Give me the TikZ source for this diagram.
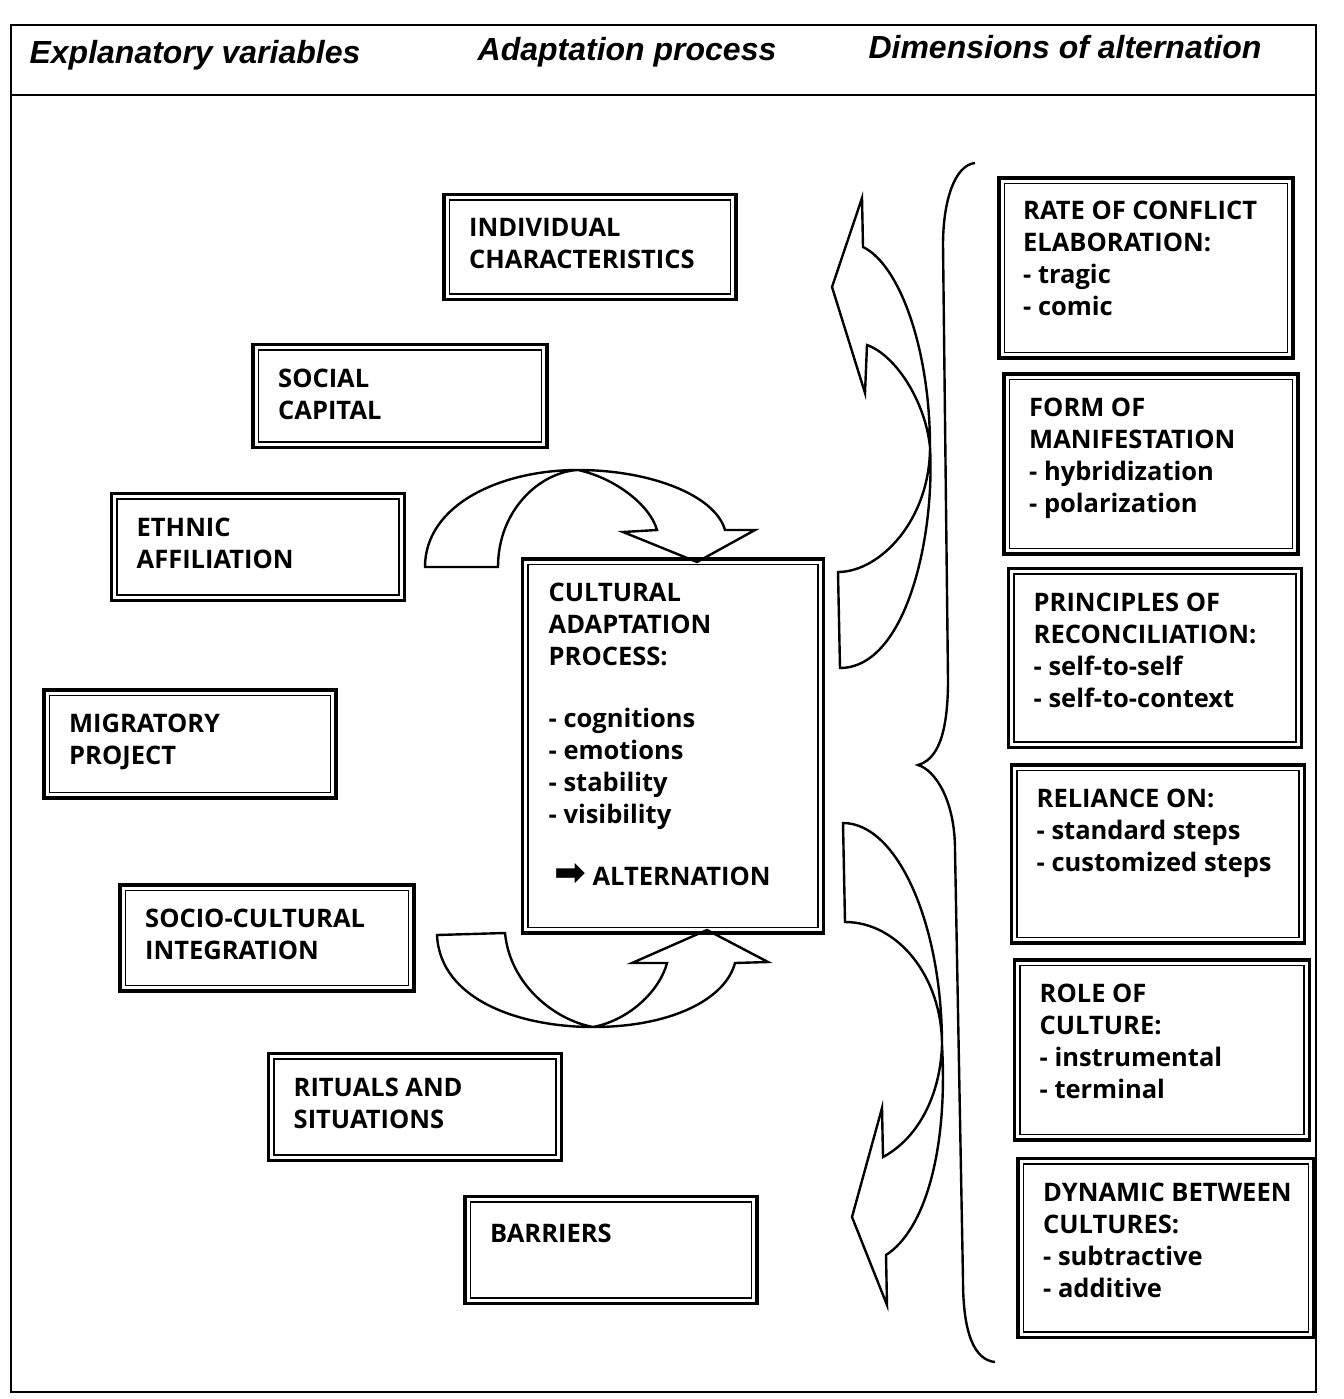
\documentclass[tikz,border=0pt]{standalone}
\usepackage{fontspec}
\setmainfont{Open Sans}
\newfontfamily\headfont{Liberation Sans}
\newfontfamily\symfont{DejaVu Sans}
\begin{document}
\begin{tikzpicture}[x=1pt,y=-1pt,
  frame/.style={draw, line width=2pt},
  dbox/.style={draw, line width=3.5pt, inner sep=0pt, outer sep=0pt},
  innerline/.style={draw, line width=1.7pt},
  txt/.style={anchor=north west, align=left, inner sep=0pt,
    font=\bfseries\fontsize{25.5}{32}\selectfont},
  head/.style={font=\headfont\bfseries\itshape\fontsize{32}{36}\selectfont},
  blockarrow/.style={draw, line width=2.4pt, line join=miter},
  brace/.style={draw, line width=2.4pt}
]
\useasboundingbox (0,0) rectangle (1343,1399);

% outer frame and column headings
\draw[frame] (11,25) rectangle (1316,1392);
\draw[frame] (11,95) -- (1316,95);
\node[head] (h1) at (195,55) {Explanatory variables};
\node[head] (h2) at (627,52) {Adaptation process};
\node[head] (h3) at (1065,47) {Dimensions of alternation};

% explanatory variables
\node[dbox, minimum width=292, minimum height=105] (indiv) at (590,247) {};
\node[txt] (indivt) at ([shift={(25,24)}]indiv.north west) {INDIVIDUAL\\CHARACTERISTICS};
\node[dbox, minimum width=294, minimum height=103] (social) at (400,396) {};
\node[txt] (socialt) at ([shift={(25,24)}]social.north west) {SOCIAL\\CAPITAL};
\node[dbox, minimum width=293, minimum height=107] (ethnic) at (258,547) {};
\node[txt] (ethnict) at ([shift={(25,24)}]ethnic.north west) {ETHNIC\\AFFILIATION};
\node[dbox, minimum width=292, minimum height=108] (migr) at (190,744) {};
\node[txt] (migrt) at ([shift={(25,24)}]migr.north west) {MIGRATORY\\PROJECT};
\node[dbox, minimum width=294, minimum height=106] (socio) at (267,938) {};
\node[txt] (sociot) at ([shift={(25,24)}]socio.north west) {SOCIO-CULTURAL\\INTEGRATION};
\node[dbox, minimum width=293, minimum height=107] (ritual) at (415,1107) {};
\node[txt] (ritualt) at ([shift={(25,24)}]ritual.north west) {RITUALS AND\\SITUATIONS};
\node[dbox, minimum width=292, minimum height=107] (barr) at (611,1250) {};
\node[txt] (barrt) at ([shift={(25,27)}]barr.north west) {BARRIERS};

% central process
\node[dbox, minimum width=301, minimum height=374] (proc) at (673,746) {};
\node[txt] (proct) at ([shift={(26,24)}]proc.north west)
  {CULTURAL\\ADAPTATION\\PROCESS:\\[30pt]- cognitions\\- emotions\\- stability\\- visibility\\[30pt]\hspace*{6pt}{\symfont\fontsize{38}{32}\selectfont\char"27A1}\hspace{6pt}ALTERNATION};

% dimensions of alternation
\node[dbox, minimum width=294, minimum height=180] (r1) at (1146,268) {};
\node[txt] (r1t) at ([shift={(24,23)}]r1.north west) {RATE OF CONFLICT\\ELABORATION:\\- tragic\\- comic};
\node[dbox, minimum width=294, minimum height=180] (r2) at (1151,464) {};
\node[txt] (r2t) at ([shift={(25,24)}]r2.north west) {FORM OF\\MANIFESTATION\\- hybridization\\- polarization};
\node[dbox, minimum width=293, minimum height=179] (r3) at (1155,658) {};
\node[txt] (r3t) at ([shift={(25,24)}]r3.north west) {PRINCIPLES OF\\RECONCILIATION:\\- self-to-self\\- self-to-context};
\node[dbox, minimum width=293, minimum height=178] (r4) at (1158,854) {};
\node[txt] (r4t) at ([shift={(25,24)}]r4.north west) {RELIANCE ON:\\- standard steps\\- customized steps};
\node[dbox, minimum width=295, minimum height=180] (r5) at (1162,1050) {};
\node[txt] (r5t) at ([shift={(25,24)}]r5.north west) {ROLE OF\\CULTURE:\\- instrumental\\- terminal};
\node[dbox, minimum width=296, minimum height=179] (r6) at (1166,1248) {};
\node[txt] (r6t) at ([shift={(25,24)}]r6.north west) {DYNAMIC BETWEEN\\CULTURES:\\- subtractive\\- additive};

% thin inner line of every double frame
\foreach \b in {indiv,social,ethnic,migr,socio,ritual,barr,proc,r1,r2,r3,r4,r5,r6}
  \draw[innerline] ([shift={(5.4,5.4)}]\b.north west) rectangle ([shift={(-5.4,-5.4)}]\b.south east);

% curly brace gathering the dimensions
\draw[brace] (975,163) .. controls (955,165) and (943,200) .. (943,245)
  -- (948,680) .. controls (948,740) and (935,760) .. (918,765)
  .. controls (935,770) and (955,800) .. (955,850)
  -- (963,1280) .. controls (963,1335) and (975,1360) .. (995,1362);

% curved block arrow into the process (top)
\draw[blockarrow] (425,567) .. controls (425,505) and (500,470) .. (578,470)
  .. controls (650,470) and (715,495) .. (725,530)
  -- (755,530) -- (697,562) -- (623,532) -- (657,530)
  .. controls (650,505) and (615,478) .. (578,470)
  .. controls (540,472) and (498,510) .. (498,567) -- cycle;

% curved block arrow into the process (bottom)
\draw[blockarrow] (437,935) .. controls (440,1000) and (520,1027) .. (593,1027)
  .. controls (670,1027) and (725,1000) .. (735,963)
  -- (768,962) -- (707,930) -- (632,963) -- (667,963)
  .. controls (660,990) and (630,1020) .. (593,1027)
  .. controls (555,1020) and (510,985) .. (505,933) -- cycle;

% curved block arrow towards the dimensions (upper)
\draw[blockarrow] (838,572) .. controls (880,572) and (930,520) .. (930,447)
  .. controls (930,350) and (900,265) .. (863,247)
  -- (862,198) -- (832,287) -- (865,393) -- (867,345)
  .. controls (895,355) and (925,400) .. (930,447)
  .. controls (935,540) and (905,668) .. (840,668) -- cycle;

% curved block arrow towards the dimensions (lower)
\draw[blockarrow] (843,823) .. controls (897,823) and (942,923) .. (942,1045)
  .. controls (948,1150) and (925,1230) .. (886,1255)
  -- (887,1305) -- (852,1217) -- (882,1108) -- (883,1157)
  .. controls (915,1140) and (940,1100) .. (942,1045)
  .. controls (942,977) and (898,922) .. (845,922) -- cycle;
\end{tikzpicture}
\end{document}
